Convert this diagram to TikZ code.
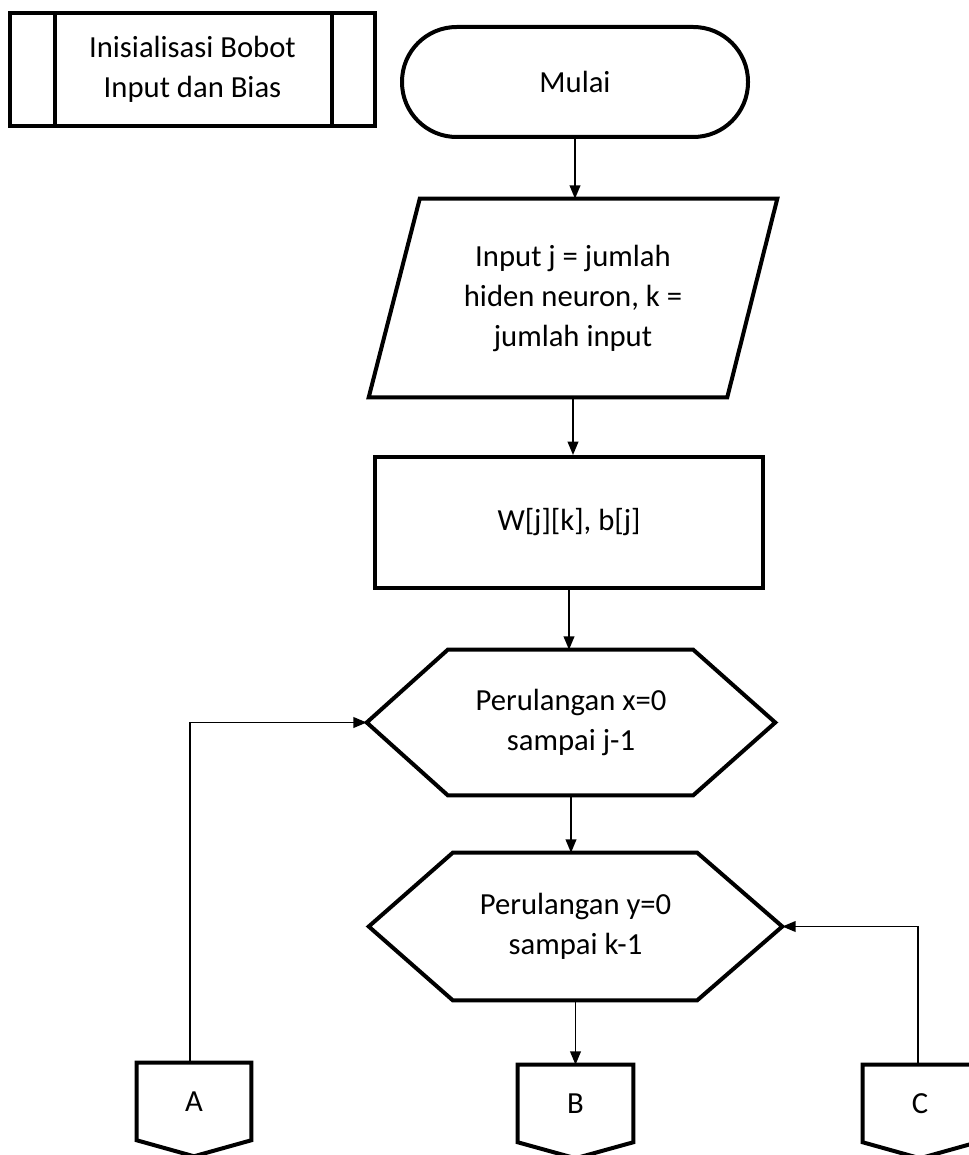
\documentclass[tikz,border=0pt]{standalone}
\usepackage{fontspec}
\setmainfont{Carlito}
\usetikzlibrary{calc,arrows.meta}
\begin{document}
\begin{tikzpicture}[x=0.75pt,y=-0.75pt,
  every node/.style={font=\fontsize{23}{30}\selectfont, align=center, inner sep=0pt},
  outline/.style={line width=3pt, line join=miter},
  flow/.style={line width=1.2pt, -{Triangle[length=10pt,width=8pt]}},
  frame/.style n args={2}{shape=rectangle, minimum width=#1, minimum height=#2},
]
\useasboundingbox (0,0) rectangle (968,1155);

% --- nodes (sizes in pt, positions in px) ---
\node[frame={273.75pt}{84.75pt}] (init) at (192.5,69.5) {Inisialisasi Bobot\\Input dan Bias};
\node[frame={259.5pt}{82.5pt}, draw, outline, rounded corners=41pt] (mulai) at (575,82) {Mulai};
\node[frame={306pt}{148.5pt}] (inp) at (573,298) {Input j = jumlah\\hiden neuron, k =\\jumlah input};
\node[frame={291pt}{98.25pt}, draw, outline] (wbox) at (569,522.5) {W[j][k], b[j]};
\node[frame={306pt}{108.75pt}] (hex1) at (571,722.5) {Perulangan x=0\\sampai j-1};
\node[frame={309.75pt}{110.25pt}] (hex2) at (575.5,926.5) {Perulangan y=0\\sampai k-1};
\node[frame={85.5pt}{57.75pt}] (A) at (194,1101.5) {A};
\node[frame={86.25pt}{57.75pt}] (B) at (575.5,1103.5) {B};
\node[frame={85.5pt}{57.75pt}] (C) at (920,1103.5) {C};

% --- outlines ---
% predefined process
\draw[outline] (init.south west) rectangle (init.north east);
\draw[outline] ($(init.north west)+(45,0)$) -- ($(init.south west)+(45,0)$);
\draw[outline] ($(init.north east)+(-43,0)$) -- ($(init.south east)+(-43,0)$);
% input / output
\draw[outline] (inp.south west) -- ($(inp.north west)+(51,0)$) -- (inp.north east)
  -- ($(inp.south east)+(-50,0)$) -- cycle;
% loop hexagons
\draw[outline] (hex1.west) -- ($(hex1.north west)+(81,0)$) -- ($(hex1.north east)+(-82,0)$)
  -- (hex1.east) -- ($(hex1.south east)+(-82,0)$) -- ($(hex1.south west)+(81,0)$) -- cycle;
\draw[outline] (hex2.west) -- ($(hex2.north west)+(84,0)$) -- ($(hex2.north east)+(-85,0)$)
  -- (hex2.east) -- ($(hex2.south east)+(-85,0)$) -- ($(hex2.south west)+(84,0)$) -- cycle;
% off-page connectors
\foreach \n in {A,B,C}{
  \draw[outline] (\n.south west) -- (\n.north west) -- (\n.north east) -- (\n.south east)
    -- ($(\n.south)+(0,16)$) -- cycle;
}

% --- connectors ---
\draw[flow] (mulai.south) -- (mulai.south |- inp.north);
\draw[flow] (inp.south) -- (inp.south |- wbox.north);
\draw[flow] (wbox.south) -- (wbox.south |- hex1.north);
\draw[flow] (hex1.south) -- (hex1.south |- hex2.north);
\draw[flow] (hex2.south) -- (hex2.south |- B.north);
\draw[flow] ($(A.north)+(-4,0)$) -- ($(A.north |- hex1.west)+(-4,0)$) -- (hex1.west);
\draw[flow] ($(C.north)+(-2,0)$) -- ($(C.north |- hex2.east)+(-2,0)$) -- (hex2.east);
\end{tikzpicture}
\end{document}
